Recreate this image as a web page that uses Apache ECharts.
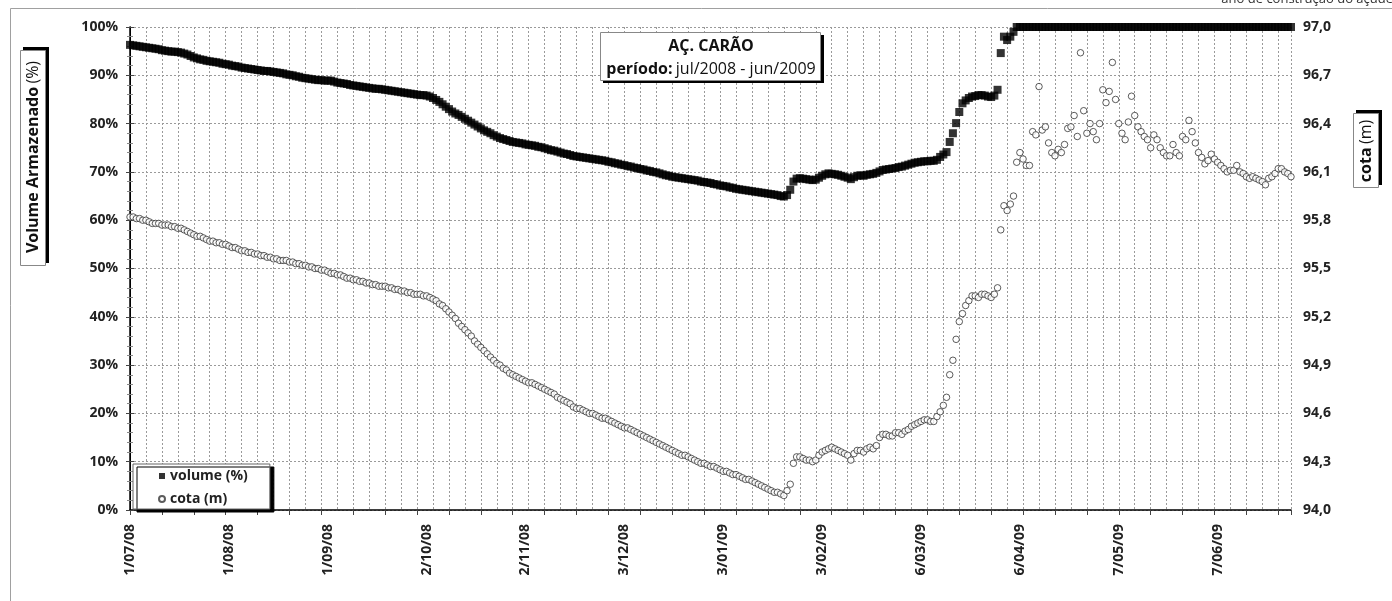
<!DOCTYPE html>
<html>
<head>
<meta charset="utf-8">
<script src="https://cdn.jsdelivr.net/npm/echarts@6/dist/echarts.min.js"></script>
<style>
  html, body { margin: 0; padding: 0; background: #fff; }
  #main { width: 1392px; height: 601px; }
</style>
</head>
<body>
<div id="main"></div>
<script>
// x = days from 1/07/08 (daily readings), labels every 31 days
const tickLabels = ["1/07/08", "1/08/08", "1/09/08", "2/10/08", "2/11/08", "3/12/08",
  "3/01/09", "3/02/09", "6/03/09", "6/04/09", "7/05/09", "7/06/09"];

// volume armazenado (%), one value per day
const volume = [
  96.3,96.2,96.1,96.0,95.9,95.8,95.7,95.6,95.5,95.4,
  95.2,95.1,95.0,94.9,94.9,94.8,94.7,94.5,94.3,94.0,
  93.7,93.5,93.3,93.2,93.0,92.9,92.8,92.7,92.6,92.4,
  92.3,92.2,92.0,91.9,91.8,91.6,91.5,91.4,91.3,91.2,
  91.1,91.0,90.9,90.9,90.8,90.7,90.6,90.5,90.4,90.2,
  90.1,90.0,89.8,89.7,89.5,89.4,89.3,89.2,89.1,89.0,
  89.0,88.9,88.9,88.9,88.7,88.5,88.4,88.3,88.2,88.0,
  87.9,87.8,87.7,87.6,87.5,87.4,87.3,87.2,87.2,87.1,
  87.0,86.9,86.8,86.7,86.6,86.5,86.4,86.3,86.2,86.1,
  86.0,85.9,85.9,85.8,85.6,85.3,84.9,84.5,84.0,83.5,
  83.0,82.5,82.1,81.8,81.4,81.0,80.6,80.2,79.8,79.4,
  79.0,78.6,78.3,78.0,77.6,77.3,77.0,76.8,76.6,76.4,
  76.2,76.1,76.0,75.9,75.7,75.6,75.5,75.4,75.2,75.1,
  74.9,74.7,74.5,74.4,74.2,74.0,73.8,73.7,73.5,73.3,
  73.2,73.1,73.0,72.9,72.8,72.7,72.6,72.5,72.4,72.3,
  72.1,72.0,71.8,71.7,71.5,71.4,71.2,71.1,70.9,70.8,
  70.6,70.5,70.3,70.2,70.0,69.9,69.7,69.5,69.3,69.2,
  69.0,68.9,68.8,68.7,68.6,68.5,68.4,68.3,68.2,68.0,
  67.9,67.8,67.7,67.5,67.4,67.2,67.1,67.0,66.8,66.7,
  66.5,66.4,66.3,66.2,66.1,66.0,65.9,65.8,65.7,65.6,
  65.5,65.4,65.3,65.2,65.0,64.9,65.2,66.3,68.0,68.6,
  68.7,68.6,68.5,68.4,68.3,68.4,68.8,69.2,69.5,69.7,
  69.6,69.5,69.4,69.2,69.0,68.8,68.5,68.9,69.2,69.3,
  69.2,69.4,69.5,69.6,69.8,70.1,70.4,70.5,70.6,70.7,
  70.8,71.0,71.1,71.3,71.5,71.7,71.9,72.0,72.1,72.2,
  72.2,72.3,72.3,72.5,73.1,73.6,74.1,76.2,78.0,80.1,
  82.4,84.2,84.8,85.3,85.6,85.7,85.9,85.9,85.8,85.6,
  85.5,85.8,87.0,94.6,98.0,97.3,98.0,99.0,100,100,
  100,100,100,100,100,100,100,100,100,100,
  100,100,100,100,100,100,100,100,100,100,
  100,100,100,100,100,100,100,100,100,100,
  100,100,100,100,100,100,100,100,100,100,
  100,100,100,100,100,100,100,100,100,100,
  100,100,100,100,100,100,100,100,100,100,
  100,100,100,100,100,100,100,100,100,100,
  100,100,100,100,100,100,100,100,100,100,
  100,100,100,100,100
];

// cota (m), one value per day
const cota = [
  95.82,95.82,95.81,95.81,95.80,95.80,95.79,95.78,95.78,95.78,
  95.77,95.77,95.77,95.76,95.76,95.75,95.75,95.74,95.73,95.72,
  95.71,95.70,95.70,95.69,95.68,95.67,95.67,95.66,95.66,95.65,
  95.65,95.64,95.63,95.63,95.62,95.61,95.61,95.60,95.60,95.59,
  95.59,95.58,95.58,95.57,95.57,95.56,95.56,95.55,95.55,95.55,
  95.54,95.54,95.53,95.53,95.52,95.52,95.51,95.51,95.50,95.50,
  95.49,95.49,95.48,95.47,95.47,95.46,95.46,95.45,95.44,95.44,
  95.43,95.43,95.42,95.42,95.41,95.41,95.40,95.40,95.39,95.39,
  95.39,95.38,95.38,95.37,95.37,95.36,95.36,95.35,95.35,95.34,
  95.34,95.34,95.33,95.33,95.32,95.31,95.30,95.28,95.27,95.25,
  95.23,95.21,95.19,95.16,95.14,95.12,95.10,95.08,95.05,95.03,
  95.01,94.99,94.97,94.95,94.93,94.91,94.90,94.88,94.87,94.85,
  94.84,94.83,94.82,94.81,94.80,94.79,94.79,94.78,94.77,94.76,
  94.75,94.74,94.73,94.72,94.70,94.69,94.68,94.67,94.66,94.64,
  94.63,94.63,94.62,94.61,94.60,94.60,94.59,94.58,94.57,94.57,
  94.56,94.55,94.54,94.53,94.52,94.51,94.51,94.50,94.49,94.48,
  94.47,94.46,94.45,94.44,94.43,94.42,94.41,94.40,94.39,94.38,
  94.37,94.36,94.35,94.34,94.34,94.33,94.32,94.31,94.30,94.29,
  94.29,94.28,94.27,94.27,94.26,94.25,94.24,94.24,94.23,94.22,
  94.22,94.21,94.20,94.19,94.19,94.18,94.17,94.16,94.15,94.14,
  94.13,94.12,94.11,94.11,94.10,94.09,94.12,94.16,94.29,94.33,
  94.33,94.32,94.31,94.31,94.30,94.31,94.34,94.36,94.37,94.38,
  94.39,94.38,94.37,94.36,94.35,94.34,94.31,94.35,94.37,94.37,
  94.36,94.38,94.39,94.38,94.40,94.45,94.47,94.47,94.46,94.46,
  94.48,94.48,94.47,94.49,94.50,94.52,94.53,94.54,94.55,94.56,
  94.56,94.55,94.55,94.58,94.61,94.65,94.70,94.84,94.93,95.06,
  95.17,95.22,95.27,95.30,95.33,95.33,95.32,95.34,95.34,95.33,
  95.32,95.34,95.38,95.74,95.89,95.86,95.90,95.95,96.16,96.22,
  96.18,96.14,96.14,96.35,96.33,96.63,96.36,96.38,96.28,96.22,
  96.20,96.24,96.22,96.27,96.37,96.38,96.45,96.32,96.84,96.48,
  96.34,96.40,96.35,96.30,96.40,96.61,96.53,96.60,96.78,96.55,
  96.40,96.34,96.30,96.41,96.57,96.45,96.38,96.35,96.32,96.30,
  96.25,96.33,96.30,96.25,96.22,96.20,96.20,96.27,96.22,96.20,
  96.32,96.30,96.42,96.35,96.28,96.22,96.19,96.15,96.17,96.21,
  96.18,96.16,96.14,96.12,96.10,96.11,96.11,96.14,96.10,96.09,
  96.07,96.06,96.07,96.06,96.05,96.04,96.02,96.06,96.07,96.09,
  96.12,96.12,96.10,96.09,96.07
];

const FONT = "'Open Sans', 'Liberation Sans', sans-serif";
const gridLine = { color: "#9a9a9a", type: [2, 2], width: 1 };
const labelStyle = { fontFamily: FONT, fontWeight: "bold", fontSize: 14, color: "#222" };

const myChart = echarts.init(document.getElementById("main"), null, { renderer: "canvas" });

const option = {
  backgroundColor: "#fff",
  animation: false,
  grid: { left: 130, top: 27, width: 1161, height: 483, containLabel: false, outerBoundsMode: "none" },
  legend: {
    left: 133,
    top: 464,
    orient: "vertical",
    data: [{ name: "volume (%)", icon: "rect" }, { name: "cota (m)", icon: "circle" }],
    itemWidth: 6,
    itemHeight: 6,
    itemGap: 7,
    itemTextGap: 5,
    padding: [4, 22, 2, 25],
    backgroundColor: "#fff",
    borderColor: "#666",
    borderWidth: 1,
    borderRadius: 0,
    shadowColor: "#000",
    shadowOffsetX: 4,
    shadowOffsetY: 3,
    shadowBlur: 0,
    textStyle: { fontFamily: FONT, fontWeight: "bold", fontSize: 14, color: "#222", lineHeight: 16 }
  },
  xAxis: [
    {
      // 5-day grid
      type: "value", position: "bottom", min: 0, max: 364, interval: 5,
      axisLine: { show: true, onZero: false, lineStyle: { color: "#000", width: 1.5 } },
      axisTick: { show: false },
      axisLabel: { show: false },
      splitLine: { show: true, lineStyle: gridLine }
    },
    {
      // 10-day tick marks
      type: "value", position: "bottom", min: 0, max: 364, interval: 10,
      axisLine: { show: false, onZero: false },
      axisTick: { show: true, length: 5, lineStyle: { color: "#444" } },
      axisLabel: { show: false },
      splitLine: { show: false }
    },
    {
      // date labels every 31 days
      type: "value", position: "bottom", min: 0, max: 364, interval: 31,
      axisLine: { show: false, onZero: false },
      axisTick: { show: false },
      splitLine: { show: false },
      axisLabel: {
        rotate: 90,
        margin: 14,
        showMaxLabel: false,
        fontFamily: FONT, fontWeight: "bold", fontSize: 14, color: "#222",
        formatter: (v) => tickLabels[v / 31] || ""
      }
    }
  ],
  yAxis: [
    {
      type: "value", min: 0, max: 100, interval: 10, position: "left",
      axisLine: { show: true, lineStyle: { color: "#000", width: 1 } },
      axisTick: { show: true, length: 4, lineStyle: { color: "#444" } },
      minorTick: { show: true, splitNumber: 5, length: 3, lineStyle: { color: "#888" } },
      axisLabel: Object.assign({ margin: 12, formatter: "{value}%" }, labelStyle),
      splitLine: { show: true, lineStyle: gridLine }
    },
    {
      type: "value", min: 94, max: 97, interval: 0.3, position: "right",
      axisLine: { show: true, lineStyle: { color: "#000", width: 1.5 } },
      axisTick: { show: true, length: 4, lineStyle: { color: "#444" } },
      minorTick: { show: true, splitNumber: 5, length: 3, lineStyle: { color: "#888" } },
      axisLabel: Object.assign({ margin: 12, formatter: (v) => v.toFixed(1).replace(".", ",") }, labelStyle),
      splitLine: { show: false }
    }
  ],
  graphic: [
    // outer frame
    { type: "rect", silent: true, shape: { x: 10.5, y: 8.5, width: 1400, height: 620 },
      style: { fill: "none", stroke: "#a0a0a0", lineWidth: 1 } },
    { type: "text", silent: true, x: 1393, y: 6,
      style: { text: "ano de construção do açude", align: "right", verticalAlign: "bottom",
        font: "13px " + FONT, fill: "#333" } },
    // title box
    { type: "rect", silent: true, z: 10, shape: { x: 603, y: 35, width: 221, height: 48 }, style: { fill: "#000" } },
    { type: "rect", silent: true, z: 11, shape: { x: 600.5, y: 32.5, width: 220, height: 48 },
      style: { fill: "#fff", stroke: "#888", lineWidth: 1 } },
    { type: "text", silent: true, z: 12, x: 711, y: 46,
      style: { text: "AÇ. CARÃO", align: "center", verticalAlign: "middle",
        font: "bold 16px " + FONT, fill: "#111" } },
    { type: "text", silent: true, z: 12, x: 711, y: 69,
      style: {
        text: "{b|período:} {n|jul/2008 - jun/2009}", align: "center", verticalAlign: "middle",
        rich: {
          b: { fontFamily: FONT, fontWeight: "bold", fontSize: 16, fill: "#111" },
          n: { fontFamily: FONT, fontSize: 16, fill: "#111" }
        }
      } },
    // left axis name box
    { type: "rect", silent: true, shape: { x: 23, y: 47, width: 26, height: 216 }, style: { fill: "#000" } },
    { type: "rect", silent: true, shape: { x: 20.5, y: 50.5, width: 25, height: 215 },
      style: { fill: "#fff", stroke: "#888", lineWidth: 1 } },
    { type: "text", silent: true, x: 33, y: 157, rotation: Math.PI / 2,
      style: {
        text: "{b|Volume Armazenado} {n|(%)}", align: "center", verticalAlign: "middle",
        rich: {
          b: { fontFamily: FONT, fontWeight: "bold", fontSize: 16, fill: "#111" },
          n: { fontFamily: FONT, fontSize: 16, fill: "#111" }
        }
      } },
    // right axis name box
    { type: "rect", silent: true, shape: { x: 1356, y: 110, width: 26, height: 75 }, style: { fill: "#000" } },
    { type: "rect", silent: true, shape: { x: 1353.5, y: 113.5, width: 25, height: 74 },
      style: { fill: "#fff", stroke: "#888", lineWidth: 1 } },
    { type: "text", silent: true, x: 1366, y: 151, rotation: Math.PI / 2,
      style: {
        text: "{b|cota} {n|(m)}", align: "center", verticalAlign: "middle",
        rich: {
          b: { fontFamily: FONT, fontWeight: "bold", fontSize: 16, fill: "#111" },
          n: { fontFamily: FONT, fontSize: 16, fill: "#111" }
        }
      } }
  ],
  series: [
    {
      name: "volume (%)",
      type: "scatter",
      xAxisIndex: 0,
      yAxisIndex: 0,
      symbol: "rect",
      symbolSize: 8,
      clip: false,
      itemStyle: { color: "#000" },
      data: volume.map((v, i) => [i, v])
    },
    {
      name: "cota (m)",
      type: "scatter",
      xAxisIndex: 0,
      yAxisIndex: 1,
      symbol: "circle",
      symbolSize: 6.5,
      clip: false,
      itemStyle: { color: "#fff", borderColor: "#333", borderWidth: 1 },
      data: cota.map((v, i) => [i, v])
    }
  ]
};
myChart.setOption(option);
</script>
</body>
</html>
